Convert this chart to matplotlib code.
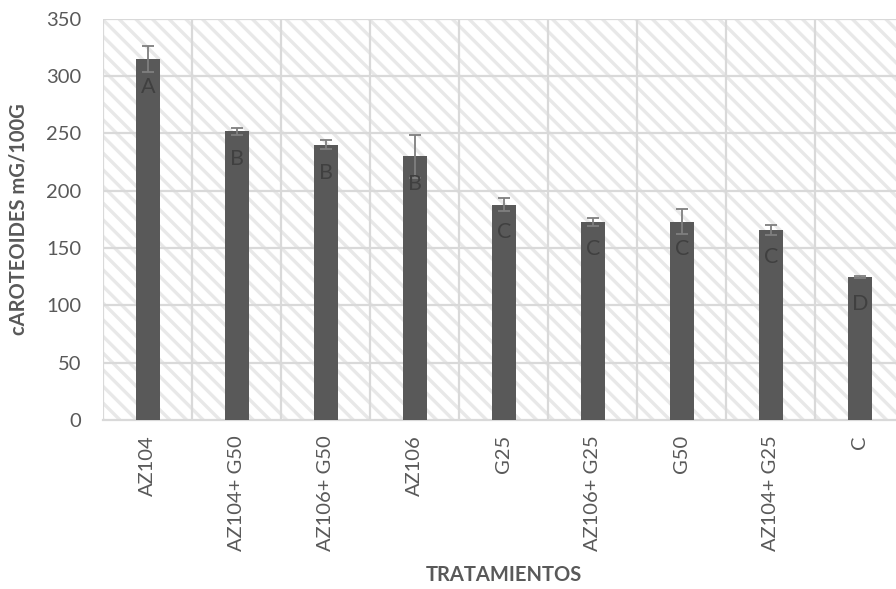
import matplotlib.pyplot as plt
from matplotlib.patches import Rectangle

tratamientos = ["AZ104", "AZ104+ G50", "AZ106+ G50", "AZ106", "G25",
                "AZ106+ G25", "G50", "AZ104+ G25", "C"]
carotenoides = [315, 252, 240, 230, 188, 173, 173, 166, 125]
errores = [11.5, 3, 4, 18.5, 5.5, 3.5, 11, 4.5, 1]
letras = ["A", "B", "B", "B", "C", "C", "C", "C", "D"]


def main():
    plt.rcParams['font.family'] = ['Lato', 'DejaVu Sans']
    plt.rcParams['hatch.color'] = '#e8e8e8'
    plt.rcParams['hatch.linewidth'] = 2.4

    fig = plt.figure(figsize=(8.96, 5.89), dpi=100)
    ax = fig.add_axes([0.1153, 0.287, 0.894, 0.681])

    x = list(range(len(tratamientos)))

    # fondo rayado del area de trazado
    ax.add_patch(Rectangle((0, 0), 1, 1, transform=ax.transAxes,
                           facecolor='white', edgecolor='#e8e8e8',
                           hatch='\\\\', linewidth=0, zorder=0))

    ax.bar(x, carotenoides, width=0.27, color='#595959', zorder=3)
    ax.errorbar(x, carotenoides, yerr=errores, fmt='none', ecolor='#7f7f7f',
                elinewidth=1.3, capsize=4.3, capthick=1.3, zorder=4)

    for xi, v, letra in zip(x, carotenoides, letras):
        ax.annotate(letra, (xi, v), xytext=(0, -20), textcoords='offset points',
                    ha='center', va='center', fontsize=15.5, color='#404040',
                    zorder=5)

    ax.set_xlim(-0.5, len(tratamientos) - 0.5)
    ax.set_ylim(0, 350)
    ax.set_yticks(range(0, 351, 50))
    ax.set_xticks(x)
    ax.set_xticklabels(tratamientos, rotation=90)

    # cuadricula: lineas horizontales y separadores entre categorias
    for yv in range(50, 351, 50):
        ax.axhline(yv, color='#d9d9d9', linewidth=1.6, zorder=1)
    for xv in x:
        ax.axvline(xv - 0.5, color='#d9d9d9', linewidth=1.6, zorder=1)

    for side in ['top', 'right', 'left']:
        ax.spines[side].set_visible(False)
    ax.spines['bottom'].set_color('#d9d9d9')
    ax.spines['bottom'].set_linewidth(1.6)
    ax.spines['bottom'].set_zorder(2)

    ax.tick_params(axis='y', length=0, pad=16, labelsize=14.5, labelcolor='#595959')
    ax.tick_params(axis='x', length=0, pad=11, labelsize=14.5, labelcolor='#595959')

    ax.set_ylabel("cAROTEOIDES mG/100G", fontsize=14.5, fontweight='bold',
                  color='#595959')
    ax.yaxis.set_label_coords(-0.094, 0.5)
    ax.set_xlabel("TRATAMIENTOS", fontsize=14.5, fontweight='bold',
                  color='#595959')
    ax.xaxis.set_label_coords(0.5, -0.362)

    fig.savefig("out.png", dpi=100)


if __name__ == "__main__":
    main()
